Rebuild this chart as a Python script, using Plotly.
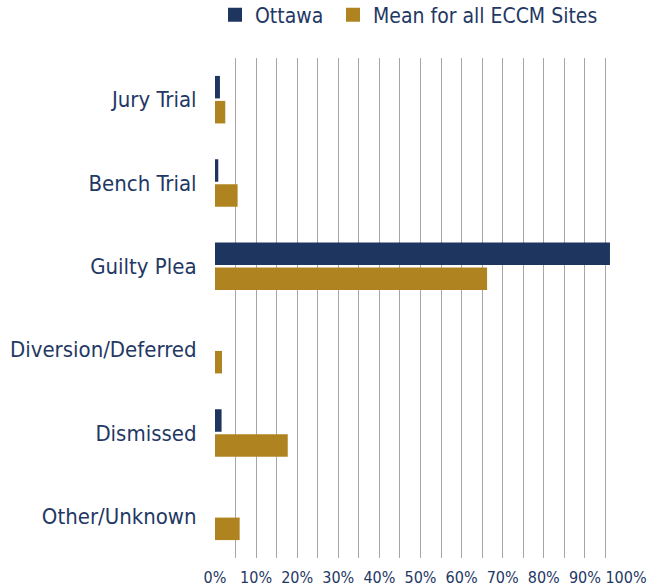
import plotly.graph_objects as go

categories = ["Jury Trial", "Bench Trial", "Guilty Plea", "Diversion/Deferred", "Dismissed", "Other/Unknown"]
ottawa = [1.2, 0.8, 96.1, 0.0, 1.6, 0.0]
mean_eccm = [2.5, 5.5, 66.2, 1.7, 17.7, 6.0]
tick_vals = [0, 10, 20, 30, 40, 50, 60, 70, 80, 90, 100]
tick_text = ["0%", "10%", "20%", "30%", "40%", "50%", "60%", "70%", "80%", "90%", "100%"]
series_names = ["Ottawa", "Mean for all ECCM Sites"]

NAVY = "#1E365F"
GOLD = "#AF8420"
TEXT = "#1F3864"
FONT = "DejaVu Sans Condensed, DejaVu Sans"

fig = go.Figure()
fig.add_trace(go.Bar(y=categories, x=ottawa, name=series_names[0], orientation="h",
                     marker=dict(color=NAVY, line=dict(width=0)), showlegend=False))
fig.add_trace(go.Bar(y=categories, x=mean_eccm, name=series_names[1], orientation="h",
                     marker=dict(color=GOLD, line=dict(width=0)), showlegend=False))
# legend entries with larger square swatches, one legend each for free placement
for nm, col, lg in zip(series_names, [NAVY, GOLD], ["legend", "legend2"]):
    fig.add_trace(go.Scatter(x=[None], y=[None], mode="markers", name=nm, legend=lg,
                             marker=dict(symbol="square", size=14, color=col)))

legend_common = dict(orientation="h", xref="container", yref="container",
                     xanchor="left", y=1 - 15 / 588, yanchor="middle",
                     font=dict(size=21, family=FONT, color=TEXT),
                     itemwidth=30, bgcolor="rgba(0,0,0,0)")

fig.update_layout(
    width=656, height=588,
    margin=dict(l=215, r=30, t=58, b=30, autoexpand=False),
    paper_bgcolor="white", plot_bgcolor="white",
    barmode="group", bargap=0.4, bargroupgap=0.1,
    font=dict(family=FONT, color=TEXT),
    legend=dict(x=215/656, **legend_common),
    legend2=dict(x=333/656, **legend_common),
    xaxis=dict(range=[0, 100], tickvals=tick_vals, ticktext=tick_text,
               showgrid=True, gridcolor="#A6A6A6", gridwidth=1,
               minor=dict(dtick=5, showgrid=True, gridcolor="#A6A6A6", gridwidth=1),
               zeroline=False, showline=False, automargin=False,
               ticks="outside", ticklen=5, tickcolor="rgba(0,0,0,0)",
               tickfont=dict(size=16, family=FONT, color=TEXT), fixedrange=True),
    yaxis=dict(autorange="reversed", showgrid=False, zeroline=False, showline=False,
               automargin=False,
               ticks="outside", ticklen=13, tickcolor="rgba(0,0,0,0)",
               tickfont=dict(size=22, family=FONT, color=TEXT)),
)

fig.write_html("out.html", config={"displayModeBar": False},
               post_script="document.body.style.margin='0';")
